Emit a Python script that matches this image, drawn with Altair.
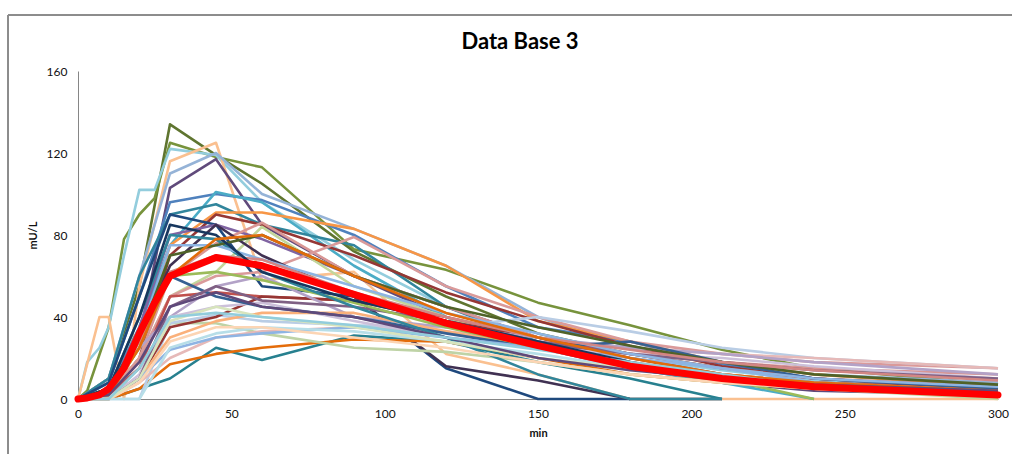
import altair as alt
import pandas as pd

N = None
TIMES = [0, 3, 7, 10, 15, 20, 25, 30, 45, 60, 90, 120, 150, 180, 210, 240, 300]

NAMES = [f"S{i:02d}" for i in range(1, 43)]
COLORS = [
    "#5F7530", "#77933C", "#93CDDD", "#FAC090", "#604A7B", "#95B3D7",
    "#4F81BD", "#4BACC6", "#31859C", "#F79646", "#953735", "#1F497D",
    "#8064A2", "#D99694", "#C3D69B", "#DA9A9A", "#403152", "#27808F",
    "#E46C0A", "#BFD3A6", "#B9CDE5", "#E6B9B8", "#C0504D", "#963634",
    "#B3A2C7", "#CCC0DA", "#FAB07A", "#366092", "#8EB4E3", "#7F6084",
    "#9BBB59", "#31869B", "#B7DEE8", "#8DB4E2", "#FCD5B4", "#4F6228",
    "#D38684", "#17375E", "#E26B0A", "#D7E4BD", "#5F497A", "#92CDDC",
]

VALUES = [
    [0, N, N, 10, N, 55, N, 134, 119, 105, 72, 50, 32, 22, 15, 9, 5],
    [0, 4, N, 35, 78, 90, 98, 125, 118, 113, 73, 63, 47, 36, 24, 15, 7],
    [0, 18, 25, 35, 70, 102, 102, 122, 119, 96, 68, 45, 30, 20, 14, 9, 5],
    [0, N, 40, 40, 0, 55, N, 116, 125, 58, 62, 22, 12, 0, 0, 0, 0],
    [0, N, N, 3, N, 30, N, 103, 117, 85, 60, 40, 25, 15, 8, 4, 2],
    [0, N, N, 10, N, 60, N, 110, 120, 100, 83, 65, 40, 25, 18, 12, 8],
    [0, N, N, 8, N, 50, N, 96, 100, 97, 80, 55, 35, 28, 17, 10, 5],
    [0, N, N, 5, N, 35, N, 75, 101, 96, 65, 40, 25, 15, 8, 0, N],
    [0, N, N, 10, N, 60, N, 90, 95, 85, 75, 45, 28, 18, 10, 5, 2],
    [0, N, N, 3, N, 25, N, 75, 91, 91, 83, 65, 38, 28, 18, 12, 6],
    [0, N, N, 2, N, 20, N, 70, 90, 85, 70, 52, 38, 26, 16, 10, 5],
    [0, N, N, 8, N, 50, N, 90, 85, 55, 50, 15, 0, 0, N, N, N],
    [0, N, N, 3, N, 35, N, 80, 85, 78, 60, 45, 30, 18, 10, 6, 3],
    [0, N, N, 2, N, 20, N, 60, 76, 86, 60, 45, 30, 22, 18, 15, 12],
    [0, N, N, 2, N, 20, N, 50, 62, 84, 55, 40, 26, 18, 10, 5, 0],
    [0, N, N, 2, N, 20, N, 50, 60, 62, 79, 55, 40, 28, 22, 18, 15],
    [0, N, N, 5, N, 30, N, 65, 85, 70, 50, 16, 9, 0, 0, N, N],
    [0, N, N, 0, N, 5, N, 10, 25, 19, 31, 28, 18, 10, 0, N, N],
    [0, N, N, 0, N, 5, N, 17, 22, 25, 29, 28, 20, 12, 8, 5, 2],
    [0, N, N, 2, N, 15, N, 37, 37, 32, 25, 23, 18, 12, 8, 5, 2],
    [0, N, N, 0, N, 0, N, 37, 41, 38, 36, 35, 40, 33, 25, 20, 15],
    [0, N, N, 0, N, 8, N, 20, 30, 33, 35, 33, 28, 25, 22, 20, 15],
    [0, N, N, 2, N, 15, N, 50, 52, 50, 48, 40, 30, 22, 15, 10, 6],
    [0, N, N, 0, N, 10, N, 35, 40, 50, 48, 38, 30, 20, 12, 8, 5],
    [0, N, N, 2, N, 25, N, 40, 55, 60, 40, 35, 30, 25, 22, 18, 12],
    [0, N, N, 0, N, 12, N, 40, 45, 47, 38, 30, 25, 22, 20, 16, 10],
    [0, N, N, 0, N, 10, N, 30, 38, 42, 42, 33, 25, 18, 12, 8, 4],
    [0, N, N, 3, N, 30, N, 60, 50, 45, 40, 32, 25, 28, 18, 10, 5],
    [0, N, N, 0, N, 10, N, 24, 30, 32, 35, 30, 25, 20, 15, 8, 3],
    [0, N, N, 0, N, 10, N, 45, 55, 48, 45, 38, 28, 22, 18, 14, 10],
    [0, N, N, 2, N, 25, N, 60, 62, 58, 47, 35, 25, 16, 10, 0, N],
    [0, N, N, 5, N, 40, N, 80, 78, 62, 45, 30, 12, 0, 0, N, N],
    [0, N, N, 0, N, 0, N, 25, 32, 35, 33, 28, 22, 15, 10, 5, 2],
    [0, N, N, 2, N, 30, N, 75, 75, 68, 55, 42, 32, 22, 15, 10, 6],
    [0, N, N, 0, N, 8, N, 28, 35, 35, 30, 25, 18, 12, 8, 5, 3],
    [0, N, N, 5, N, 30, N, 70, 75, 80, 60, 45, 35, 26, 18, 12, 7],
    [0, N, N, 3, N, 28, N, 62, 70, 68, 52, 40, 30, 24, 18, 14, 9],
    [0, N, N, 5, N, 40, N, 85, 80, 62, 48, 38, 28, 18, 10, 6, 3],
    [0, N, N, 2, N, 25, N, 60, 78, 80, 60, 42, 30, 20, 12, 8, 4],
    [0, N, N, 0, N, 10, N, 38, 45, 40, 35, 28, 20, 15, 10, 5, 2],
    [0, N, N, 2, N, 18, N, 45, 52, 45, 40, 30, 20, 14, 10, 7, 4],
    [0, N, N, 0, N, 15, N, 40, 42, 40, 36, 30, 24, 18, 12, 6, 2],
]

MEAN = [0, 0.5, 2, 5, 15, 32, 47, 60, 69, 65, 51, 37, 26, 16, 10, 6, 2]

X_TICKS = [0, 50, 100, 150, 200, 250, 300]
Y_TICKS = [0, 40, 80, 120, 160]
TITLE = ["Data Base 3"]

rows = []
for order, (name, vals) in enumerate(zip(NAMES, VALUES)):
    for t, v in zip(TIMES, vals):
        if v is not None:
            rows.append({"series": name, "t": t, "v": v, "o": order})
df = pd.DataFrame(rows)
mean_df = pd.DataFrame({"t": TIMES, "v": MEAN})
title_df = pd.DataFrame({"label": TITLE})

LABEL_FONT = "Lato"

x_enc = alt.X(
    "t:Q",
    scale=alt.Scale(domain=[0, 300], nice=False, zero=False),
    axis=alt.Axis(
        values=X_TICKS, title="min", grid=False, ticks=False,
        domainColor="#868686", domainWidth=1,
        labelFont=LABEL_FONT, labelFontSize=12, labelColor="#111",
        labelPadding=9, titleFont=LABEL_FONT, titleFontSize=11,
        titleFontWeight="bold", titleColor="#111", titlePadding=8,
        labelFlush=False,
    ),
)
y_enc = alt.Y(
    "v:Q",
    scale=alt.Scale(domain=[0, 160], nice=False),
    axis=alt.Axis(
        values=Y_TICKS, title="mU/L", grid=False, ticks=False,
        domainColor="#868686", domainWidth=1,
        labelFont=LABEL_FONT, labelFontSize=12, labelColor="#111",
        labelPadding=11, titleFont=LABEL_FONT, titleFontSize=11,
        titleFontWeight="bold", titleColor="#111", titlePadding=8,
    ),
)

lines = alt.Chart(df).mark_line(strokeWidth=2.6, strokeJoin="round").encode(
    x=x_enc,
    y=y_enc,
    color=alt.Color("series:N", scale=alt.Scale(domain=NAMES, range=COLORS), legend=None),
    order=alt.Order("t:Q"),
)

mean_line = alt.Chart(mean_df).mark_line(
    strokeWidth=7, color="#FF0000", strokeJoin="round", strokeCap="round",
).encode(x="t:Q", y="v:Q")

border = alt.Chart(mean_df).mark_rect(
    fillOpacity=0, stroke="#8C8C8C", strokeWidth=1
).encode(
    x=alt.value(-70), x2=alt.value(945), y=alt.value(-56), y2=alt.value(400)
)

title_mark = alt.Chart(title_df).mark_text(
    font=LABEL_FONT, fontSize=22, fontWeight="bold", color="#000",
    align="center", baseline="middle",
).encode(x=alt.value(442), y=alt.value(-29), text="label:N")

chart = alt.layer(border, lines, mean_line, title_mark).properties(
    width=920,
    height=328,
    autosize=alt.AutoSizeParams(type="none"),
    padding={"left": 78, "top": 71, "right": 14, "bottom": 55},
).configure_view(stroke=None)

chart.save("out.html", embed_options={"renderer": "svg", "actions": False})
